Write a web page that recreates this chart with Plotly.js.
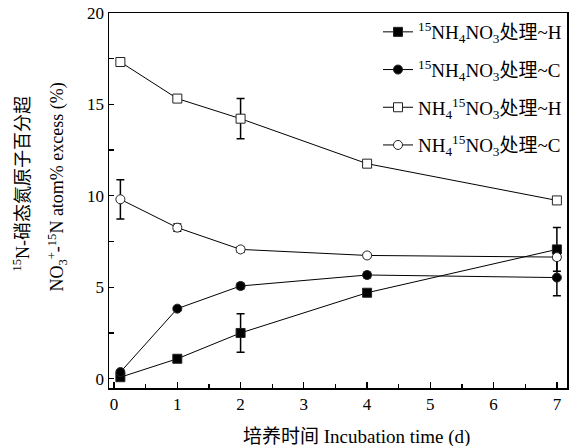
<!DOCTYPE html>
<html>
<head>
<meta charset="utf-8">
<script src="https://cdn.plot.ly/plotly-3.0.1.min.js"></script>
<style>html,body{margin:0;padding:0;background:#fff;}#chart{width:576px;height:446px;}</style>
</head>
<body>
<div id="chart"></div>
<script>
var days = [0.1, 1, 2, 4, 7];
var ammH = [0.08, 1.09, 2.5, 4.7, 7.07];
var ammHErr = [0.1, 0.1, 1.05, 0.15, 1.2];
var ammC = [0.36, 3.83, 5.07, 5.67, 5.53];
var ammCErr = [0.1, 0.1, 0.15, 0.15, 1.0];
var nitH = [17.32, 15.32, 14.22, 11.76, 9.75];
var nitHErr = [0.15, 0.12, 1.1, 0.15, 0.15];
var nitC = [9.81, 8.26, 7.07, 6.74, 6.65];
var nitCErr = [1.07, 0.2, 0.15, 0.12, 0.15];
var names = [
  '<sup>15</sup>NH<sub>4</sub>NO<sub>3</sub>处理~H',
  '<sup>15</sup>NH<sub>4</sub>NO<sub>3</sub>处理~C',
  'NH<sub>4</sub><sup>15</sup>NO<sub>3</sub>处理~H',
  'NH<sub>4</sub><sup>15</sup>NO<sub>3</sub>处理~C'
];
var xTicks = [0, 1, 2, 3, 4, 5, 6, 7];
var yTicks = [0, 5, 10, 15, 20];

var FONT = '"Liberation Serif", "Times New Roman", "Noto Sans CJK SC", serif';

function mk(y, err, name, symbol, fill, grp) {
  return {
    x: days, y: y, name: name, type: 'scatter', mode: 'lines+markers',
    legendgroup: grp,
    line: {color: '#000', width: 1},
    marker: {symbol: symbol, size: 9, color: fill, line: {color: '#222', width: 1}},
    error_y: {type: 'data', array: err, visible: true, color: '#000', thickness: 1.5, width: 4}
  };
}

var data = [
  mk(ammH, ammHErr, names[0], 'square', '#000', 'a'),
  mk(ammC, ammCErr, names[1], 'circle', '#000', 'b'),
  mk(nitH, nitHErr, names[2], 'square', '#fff', 'c'),
  mk(nitC, nitCErr, names[3], 'circle', '#fff', 'd')
];

var layout = {
  width: 576, height: 446,
  margin: {l: 109, r: 9, t: 13, b: 58},
  paper_bgcolor: '#fff', plot_bgcolor: '#fff',
  font: {family: FONT, size: 17, color: '#000'},
  showlegend: true,
  legend: {
    x: 1, xanchor: 'right', y: 1, yanchor: 'top',
    bgcolor: 'rgba(0,0,0,0)', traceorder: 'grouped', tracegroupgap: 10,
    font: {family: FONT, size: 19, color: '#000'}
  },
  xaxis: {
    range: [-0.08, 7.16], tickvals: xTicks, ticktext: xTicks.map(String),
    ticks: 'inside', ticklen: 6, tickwidth: 1.3, tickcolor: '#000',
    minor: {dtick: 0.5, ticks: 'inside', ticklen: 4, tickwidth: 1.3, tickcolor: '#000'},
    showline: true, linecolor: '#000', linewidth: 1.5, mirror: true,
    showgrid: false, zeroline: false,
    tickfont: {family: FONT, size: 17}
  },
  yaxis: {
    range: [-0.51, 20], tickvals: yTicks, ticktext: yTicks.map(String),
    ticks: 'inside', ticklen: 5, tickwidth: 1.3, tickcolor: '#000',
    minor: {dtick: 2.5, ticks: 'inside', ticklen: 5, tickwidth: 1.3, tickcolor: '#000'},
    showline: true, linecolor: '#000', linewidth: 1.5, mirror: true,
    showgrid: false, zeroline: false,
    tickfont: {family: FONT, size: 17}
  },
  annotations: [
    {xref: 'paper', yref: 'paper', x: 0.54, y: -0.13, xanchor: 'center', yanchor: 'middle',
     text: '培养时间 Incubation time (d)', showarrow: false, font: {family: FONT, size: 19}},
    {xref: 'paper', yref: 'paper', x: -0.19, y: 0.545, xanchor: 'center', yanchor: 'middle',
     textangle: -90, text: '<sup>15</sup>N-硝态氮原子百分超', showarrow: false, font: {family: FONT, size: 18}},
    {xref: 'paper', yref: 'paper', x: -0.113, y: 0.535, xanchor: 'center', yanchor: 'middle',
     textangle: -90, text: 'NO<sub>3</sub><sup>+</sup>-<sup>15</sup>N atom% excess (%)', showarrow: false, font: {family: FONT, size: 18}}
  ]
};

Plotly.newPlot('chart', data, layout, {displayModeBar: false, staticPlot: true});
</script>
</body>
</html>
